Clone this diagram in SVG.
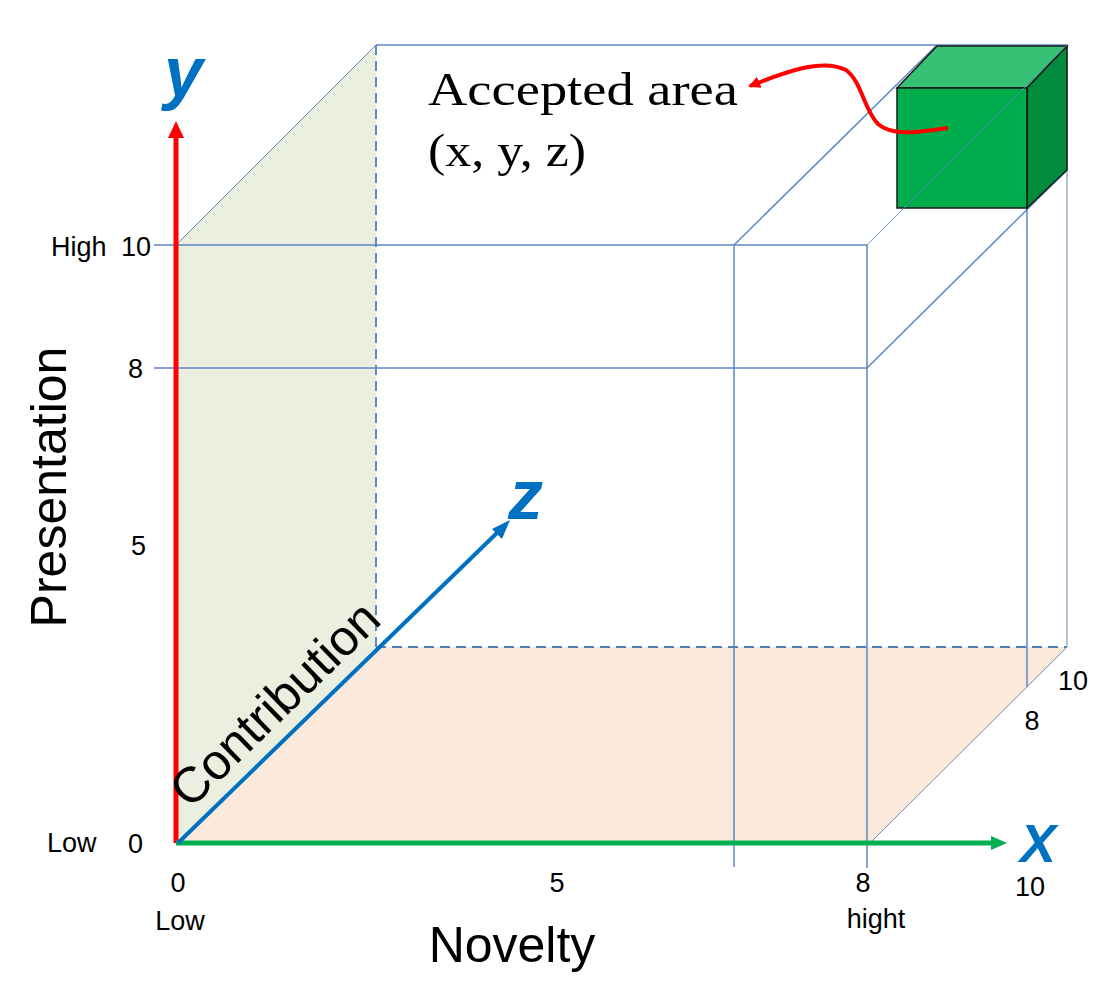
<svg xmlns="http://www.w3.org/2000/svg" width="1108" height="1004" viewBox="0 0 1108 1004">
<style>
.ln{stroke:#5b87c5;stroke-width:1.5;fill:none}
.th{stroke:#6d86b0;stroke-width:1;fill:none}
.ds{stroke:#4f81bd;stroke-width:1.8;fill:none;stroke-dasharray:10 6}
.lbl{font-family:"Liberation Sans",Arial,sans-serif;font-size:27px;fill:#000}
.big{font-family:"Liberation Sans",Arial,sans-serif;font-size:50px;fill:#000}
.ax{font-family:"Liberation Sans",Arial,sans-serif;font-style:italic;font-weight:bold;fill:#0070c0}
.ser{font-family:"Liberation Serif","Times New Roman",serif;font-size:46px;fill:#000}
.cube{stroke:#1a1a1a;stroke-width:1.5}
</style>
<defs>
<marker id="ar" markerWidth="12" markerHeight="12" refX="10" refY="6" orient="auto" markerUnits="userSpaceOnUse" viewBox="0 0 12 12"><path d="M0,0 L12,6 L0,12 z" fill="#ff0000"/></marker>
</defs>
<rect width="1108" height="1004" fill="#fff"/>
<g id="faces">
<polygon points="176,245 376,45 376,647 176,843" fill="#ebefdf"/>
<polygon points="176,843 376,647 1067,647 870,843" fill="#fbe9db"/>
</g>
<g id="grid">
<line class="ln" x1="376" y1="45" x2="1067" y2="45"/>
<line class="th" x1="176" y1="245" x2="376" y2="45"/>
<line class="ds" x1="376" y1="45" x2="376" y2="647"/>
<line class="ds" x1="376" y1="647" x2="1067" y2="647"/>
<line class="ln" x1="154" y1="245" x2="867" y2="245"/>
<line class="ln" x1="154" y1="368" x2="867" y2="368"/>
<line class="ln" x1="867" y1="245" x2="867" y2="868"/>
<line class="ln" x1="734" y1="245" x2="734" y2="867"/>
<line class="ln" x1="734" y1="245" x2="937" y2="45"/>
<line class="ln" x1="867" y1="368" x2="1067" y2="170"/>
<line class="ln" x1="1027" y1="208" x2="1027" y2="687"/>
<line class="th" x1="1067" y1="45" x2="1067" y2="647"/>
<line class="th" x1="870" y1="843" x2="1067" y2="647"/>
<line class="ln" x1="1027" y1="208" x2="1067" y2="170"/>
</g>
<g id="accepted-cube">
<polygon class="cube" points="897,88 937,46 1067,46 1027,88" fill="#36c174"/>
<polygon class="cube" points="1027,88 1067,46 1067,170 1027,208" fill="#008c3c"/>
<rect class="cube" x="897" y="88" width="130" height="120" fill="#00ad4d"/>
<line x1="867" y1="245" x2="1067" y2="45" stroke="#5b87c5" stroke-width="1" opacity="0.8"/>
</g>
<g id="connectors">
<line x1="176" y1="843" x2="176" y2="135" stroke="#ff0000" stroke-width="5"/>
<polygon points="176,121 168,138 184,138" fill="#ff0000"/>
<line x1="176" y1="843" x2="993" y2="843" stroke="#00b050" stroke-width="5"/>
<polygon points="1007,843 991,836 991,850" fill="#00b050"/>
<line x1="178" y1="843" x2="499" y2="531" stroke="#0070c0" stroke-width="4"/>
<polygon points="510,520 492,529 502,539" fill="#0070c0"/>
<path d="M948,128 C920,132 893,137 878,124 C864,110 862,82 846,70 C822,58 785,72 750,86" stroke="#ff0000" stroke-width="4" fill="none" marker-end="url(#ar)"/>
</g>
<g id="labels">
<text class="ser" x="428" y="105" textLength="310" lengthAdjust="spacingAndGlyphs">Accepted area</text>
<text class="ser" x="428" y="166" textLength="158" lengthAdjust="spacingAndGlyphs">(x, y, z)</text>
<text class="ax" x="164" y="96" font-size="70">y</text>
<text class="ax" x="508" y="519" font-size="70">z</text>
<text class="ax" x="1020" y="862" font-size="54">X</text>
<text class="big" transform="translate(66,487) rotate(-90)" text-anchor="middle">Presentation</text>
<text class="big" x="512" y="962" text-anchor="middle">Novelty</text>
<text class="big" transform="translate(190,810) rotate(-44.2)" font-size="48">Contribution</text>
<text class="lbl" x="51" y="256">High</text>
<text class="lbl" x="121" y="256">10</text>
<text class="lbl" x="128" y="378">8</text>
<text class="lbl" x="131" y="555">5</text>
<text class="lbl" x="47" y="852">Low</text>
<text class="lbl" x="128" y="853">0</text>
<text class="lbl" x="178" y="892" text-anchor="middle">0</text>
<text class="lbl" x="180" y="930" text-anchor="middle">Low</text>
<text class="lbl" x="557" y="892" text-anchor="middle">5</text>
<text class="lbl" x="863" y="892" text-anchor="middle">8</text>
<text class="lbl" x="876" y="928" text-anchor="middle">hight</text>
<text class="lbl" x="1030" y="896" text-anchor="middle">10</text>
<text class="lbl" x="1073" y="690" text-anchor="middle">10</text>
<text class="lbl" x="1032" y="730" text-anchor="middle">8</text>
</g>
</svg>
